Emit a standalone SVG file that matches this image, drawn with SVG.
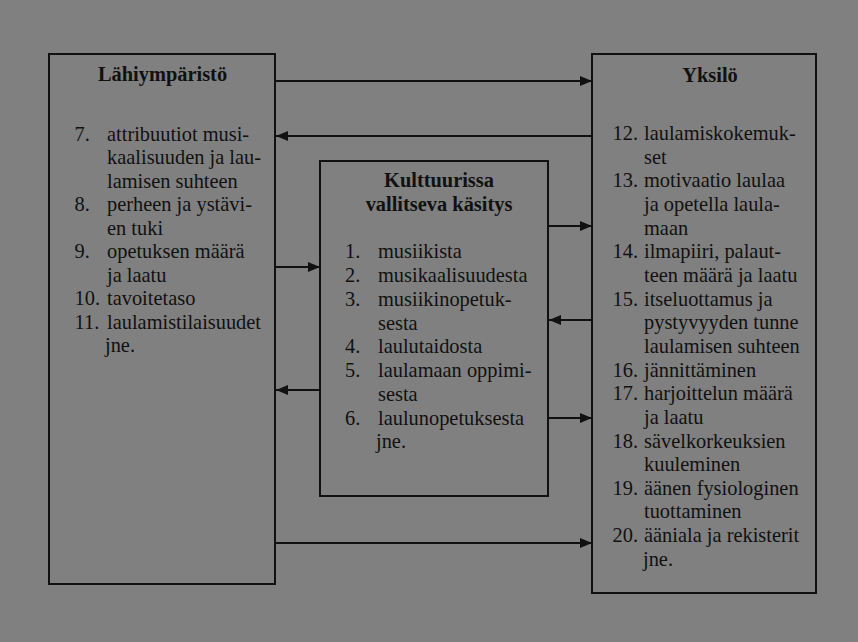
<svg xmlns="http://www.w3.org/2000/svg" width="858" height="642" viewBox="0 0 858 642">
<style>
.box{fill:#808080;stroke:#111;stroke-width:2}
.t{font-family:"Liberation Serif","Times New Roman",serif;font-size:20.4px;fill:#111}
.b{font-weight:bold}
.c{text-anchor:middle}
.con{stroke:#111;stroke-width:2;fill:none;marker-end:url(#ah)}
</style>
<defs>
<marker id="ah" markerUnits="userSpaceOnUse" markerWidth="12" markerHeight="10" refX="12" refY="5" orient="auto">
<path d="M0,0 L12,5 L0,10 z" fill="#111"/>
</marker>
</defs>
<rect width="858" height="642" fill="#808080"/>
<g id="lahiymparisto">
<rect class="box" x="49" y="54" width="226" height="530"/>
<text class="t b c" x="162.5" y="81">Lähiympäristö</text>
<text class="t" x="74.5" y="140.5">7.</text>
<text class="t" x="107" y="140.5">attribuutiot musi-</text>
<text class="t" x="107" y="164">kaalisuuden ja lau-</text>
<text class="t" x="107" y="187.5">lamisen suhteen</text>
<text class="t" x="74.5" y="211">8.</text>
<text class="t" x="107" y="211">perheen ja ystävi-</text>
<text class="t" x="107" y="234.5">en tuki</text>
<text class="t" x="74.5" y="258">9.</text>
<text class="t" x="107" y="258">opetuksen määrä</text>
<text class="t" x="107" y="281.5">ja laatu</text>
<text class="t" x="74.5" y="305">10.</text>
<text class="t" x="107" y="305">tavoitetaso</text>
<text class="t" x="74.5" y="328.5">11.</text>
<text class="t" x="107" y="328.5">laulamistilaisuudet</text>
<text class="t" x="105" y="352">jne.</text>
</g>
<g id="kulttuuri">
<rect class="box" x="320" y="161" width="228" height="335"/>
<text class="t b c" x="439" y="187">Kulttuurissa</text>
<text class="t b c" x="439" y="211">vallitseva käsitys</text>
<text class="t" x="345" y="258.3">1.</text>
<text class="t" x="378" y="258.3">musiikista</text>
<text class="t" x="345" y="282">2.</text>
<text class="t" x="378" y="282">musikaalisuudesta</text>
<text class="t" x="345" y="305.8">3.</text>
<text class="t" x="378" y="305.8">musiikinopetuk-</text>
<text class="t" x="378" y="329.5">sesta</text>
<text class="t" x="345" y="353.3">4.</text>
<text class="t" x="378" y="353.3">laulutaidosta</text>
<text class="t" x="345" y="377">5.</text>
<text class="t" x="378" y="377">laulamaan oppimi-</text>
<text class="t" x="378" y="400.8">sesta</text>
<text class="t" x="345" y="424.5">6.</text>
<text class="t" x="378" y="424.5">laulunopetuksesta</text>
<text class="t" x="376" y="448.3">jne.</text>
</g>
<g id="yksilo">
<rect class="box" x="592" y="54" width="224" height="539"/>
<text class="t b c" x="710" y="81.5">Yksilö</text>
<text class="t" x="612.5" y="140">12.</text>
<text class="t" x="644" y="140">laulamiskokemuk-</text>
<text class="t" x="644" y="163.6">set</text>
<text class="t" x="612.5" y="187.3">13.</text>
<text class="t" x="644" y="187.3">motivaatio laulaa</text>
<text class="t" x="644" y="211">ja opetella laula-</text>
<text class="t" x="644" y="234.6">maan</text>
<text class="t" x="612.5" y="258.3">14.</text>
<text class="t" x="644" y="258.3">ilmapiiri, palaut-</text>
<text class="t" x="644" y="281.9">teen määrä ja laatu</text>
<text class="t" x="612.5" y="305.6">15.</text>
<text class="t" x="644" y="305.6">itseluottamus ja</text>
<text class="t" x="644" y="329.2">pystyvyyden tunne</text>
<text class="t" x="644" y="352.9">laulamisen suhteen</text>
<text class="t" x="612.5" y="376.5">16.</text>
<text class="t" x="644" y="376.5">jännittäminen</text>
<text class="t" x="612.5" y="400.2">17.</text>
<text class="t" x="644" y="400.2">harjoittelun määrä</text>
<text class="t" x="644" y="423.8">ja laatu</text>
<text class="t" x="612.5" y="447.5">18.</text>
<text class="t" x="644" y="447.5">sävelkorkeuksien</text>
<text class="t" x="644" y="471.1">kuuleminen</text>
<text class="t" x="612.5" y="494.8">19.</text>
<text class="t" x="644" y="494.8">äänen fysiologinen</text>
<text class="t" x="644" y="518.4">tuottaminen</text>
<text class="t" x="612.5" y="542.1">20.</text>
<text class="t" x="644" y="542.1">ääniala ja rekisterit</text>
<text class="t" x="643" y="565.7">jne.</text>
</g>
<g id="connectors">
<line class="con" x1="276" y1="81" x2="592" y2="81"/>
<line class="con" x1="591" y1="136" x2="276" y2="136"/>
<line class="con" x1="276" y1="267" x2="320" y2="267"/>
<line class="con" x1="319" y1="390" x2="276" y2="390"/>
<line class="con" x1="549" y1="226" x2="592" y2="226"/>
<line class="con" x1="591" y1="320" x2="549" y2="320"/>
<line class="con" x1="549" y1="418" x2="592" y2="418"/>
<line class="con" x1="276" y1="543" x2="592" y2="543"/>
</g>
</svg>
